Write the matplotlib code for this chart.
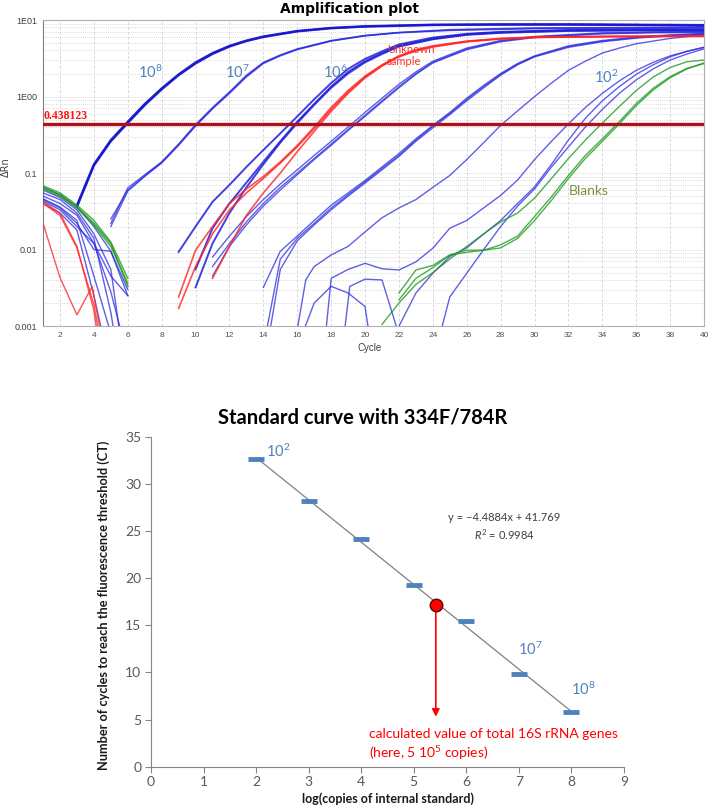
import numpy as np
import matplotlib
matplotlib.use('Agg')
import matplotlib.pyplot as plt
from matplotlib.ticker import LogLocator, NullFormatter

# ---- amplification plot data: (cycle, dRn) points per well ----
base_blue = [
    [(1,0.065),(2,0.052),(3,0.036),(4,0.02),(5,0.0095),(6,0.003)],
    [(1,0.06),(2,0.048),(3,0.033),(4,0.016),(5,0.0055),(5.5,0.0009)],
    [(1,0.05),(2,0.04),(3,0.028),(4,0.012),(5,0.0045),(6,0.0025)],
    [(1,0.045),(2,0.035),(3,0.022),(4,0.01),(5,0.0095),(6,0.0025)],
    [(1,0.046),(2,0.036),(3,0.024),(4,0.0045),(5,0.0008)],
    [(1,0.04),(2,0.03),(3,0.018),(4,0.0025),(4.5,0.0008)],
    [(1,0.055),(2,0.045),(3,0.03),(4,0.014),(5,0.0015),(5.3,0.0006)],
    [(1,0.043),(2,0.033),(3,0.02),(4,0.012),(5,0.0028),(5.7,0.0007)],
]
base_red = [
    [(1,0.022),(2,0.0043),(3,0.0014),(3.9,0.0033),(4.4,0.0008)],
    [(1,0.042),(2,0.03),(3,0.011),(4,0.0016),(4.2,0.0008)],
    [(1,0.04),(2,0.028),(3,0.0105),(4,0.0019),(4.3,0.0008)],
]
base_green = [
    [(1,0.068),(2,0.055),(3,0.038),(4,0.024),(5,0.0125),(6,0.0042)],
    [(1,0.065),(2,0.052),(3,0.036),(4,0.022),(5,0.012),(6,0.0033)],
    [(1,0.062),(2,0.05),(3,0.035),(4,0.021),(5,0.011),(6,0.0036)],
]
std_1e8 = [
    [(3,0.038),(4,0.13),(5,0.27),(6,0.47),(7,0.8),(8,1.28),(9,1.95),(10,2.8),(11,3.7),(12,4.6),(13,5.4),(14,6.1),
     (16,7.2),(18,7.9),(20,8.3),(24,8.7),(28,8.8),(32,8.8),(36,8.7),(40,8.6)],
    [(3,0.036),(4,0.125),(5,0.26),(6,0.45),(7,0.77),(8,1.24),(9,1.9),(10,2.7),(11,3.6),(12,4.5),(13,5.3),(14,6.0),
     (16,7.1),(18,7.8),(20,8.2),(24,8.6),(28,8.7),(32,8.7),(36,8.6),(40,8.4)],
]
std_1e7 = [
    [(5,0.022),(6,0.064),(7,0.095),(8,0.14),(9,0.24),(10,0.43),(11,0.72),(12,1.15),(13,1.9),(14,2.8),(15,3.5),(16,4.2),
     (18,5.4),(20,6.3),(22,6.9),(25,7.5),(30,7.9),(35,8.0),(40,8.0)],
    [(5,0.02),(6,0.058),(7,0.09),(8,0.135),(9,0.23),(10,0.41),(11,0.69),(12,1.1),(13,1.8),(14,2.7),(15,3.4),(16,4.1),
     (18,5.3),(20,6.2),(22,6.8),(25,7.3),(30,7.7),(35,7.8),(40,7.8)],
    [(5,0.025),(6,0.06),(7,0.092),(8,0.138),(9,0.235),(10,0.42),(11,0.7),(12,1.12),(13,1.85),(14,2.75),(15,3.45),(16,4.15),
     (18,5.35),(20,6.25),(22,6.85),(25,7.4),(30,7.8),(35,7.9),(40,7.9)],
]
std_1e6 = [
    [(9,0.0093),(10,0.02),(11,0.042),(12,0.07),(13,0.12),(14,0.2),(15,0.33),(16,0.55),(17,0.92),(18,1.5),(19,2.3),(20,3.1),
     (21,3.9),(22,4.8),(24,5.9),(26,6.6),(28,7.0),(32,7.4),(36,7.5),(40,7.5)],
    [(10,0.0055),(11,0.019),(12,0.04),(13,0.075),(14,0.14),(15,0.26),(16,0.47),(17,0.8),(18,1.35),(19,2.1),(20,2.9),
     (21,3.7),(22,4.6),(24,5.7),(26,6.5),(28,6.9),(32,7.3),(36,7.4),(40,7.4)],
    [(10,0.0032),(11,0.012),(12,0.03),(13,0.065),(14,0.13),(15,0.25),(16,0.45),(17,0.78),(18,1.3),(19,2.0),(20,2.8),
     (21,3.6),(22,4.5),(24,5.6),(26,6.4),(28,6.8),(32,7.2),(36,7.3),(40,7.3)],
]
std_1e5 = [
    [(11,0.008),(12,0.015),(13,0.027),(14,0.045),(15,0.072),(16,0.11),(17,0.17),(18,0.26),(19,0.4),(20,0.62),(21,0.95),
     (22,1.45),(23,2.1),(24,2.9),(26,4.3),(28,5.4),(30,6.1),(34,6.8),(37,7.0),(40,7.1)],
    [(11,0.006),(12,0.012),(13,0.023),(14,0.04),(15,0.065),(16,0.1),(17,0.155),(18,0.24),(19,0.37),(20,0.57),(21,0.88),
     (22,1.35),(23,2.0),(24,2.8),(26,4.2),(28,5.3),(30,6.0),(34,6.7),(37,6.9),(40,7.0)],
    [(11,0.0045),(12,0.011),(13,0.021),(14,0.037),(15,0.06),(16,0.095),(17,0.15),(18,0.23),(19,0.36),(20,0.55),(21,0.85),
     (22,1.3),(23,1.95),(24,2.75),(26,4.1),(28,5.2),(30,5.9),(34,6.6),(37,6.8),(40,6.9)],
]
std_1e4 = [
    [(14,0.0032),(15,0.0095),(16,0.015),(17,0.024),(18,0.038),(19,0.055),(20,0.08),(21,0.12),(22,0.18),(23,0.28),(24,0.42),
     (25,0.62),(26,0.95),(27,1.4),(28,2.0),(29,2.7),(30,3.4),(32,4.6),(34,5.4),(36,6.0),(38,6.4),(40,6.7)],
    [(14.2,0.0009),(15,0.0075),(16,0.014),(17,0.022),(18,0.035),(19,0.052),(20,0.077),(21,0.115),(22,0.17),(23,0.27),(24,0.41),
     (25,0.6),(26,0.92),(27,1.35),(28,1.95),(29,2.65),(30,3.35),(32,4.5),(34,5.3),(36,5.9),(38,6.3),(40,6.6)],
    [(14.4,0.0009),(15,0.0055),(16,0.013),(17,0.021),(18,0.033),(19,0.05),(20,0.074),(21,0.11),(22,0.165),(23,0.26),(24,0.39),
     (25,0.58),(26,0.88),(27,1.3),(28,1.9),(29,2.6),(30,3.3),(32,4.4),(34,5.2),(36,5.8),(38,6.2),(40,6.5)],
]
std_1e3 = [
    [(16,0.0009),(16.5,0.004),(17,0.006),(18,0.0085),(19,0.011),(20,0.017),(21,0.026),(22,0.035),(23,0.045),(24,0.065),
     (25,0.093),(26,0.15),(27,0.25),(28,0.42),(29,0.65),(30,1.0),(31,1.5),(32,2.2),(33,2.9),(34,3.7),(35,4.3),(36,4.9),
     (38,5.75),(40,6.4)],
]
std_1e2 = [
    [(17.7,0.0009),(18,0.0042),(19,0.0055),(20,0.0066),(21,0.0056),(22,0.0054),(23,0.0069),(24,0.0104),(25,0.019),
     (26,0.024),(27,0.035),(28,0.051),(29,0.081),(30,0.15),(31,0.26),(32,0.44),(33,0.72),(34,1.1),(35,1.6),(36,2.2),
     (37,2.8),(38,3.4),(39,3.9),(40,4.4)],
    [(21.9,0.0009),(23,0.0027),(24,0.0049),(25,0.0081),(26,0.0105),(27,0.016),(28,0.024),(29,0.04),(30,0.066),(31,0.13),
     (32,0.27),(33,0.52),(34,0.88),(35,1.35),(36,1.95),(37,2.6),(38,3.3),(39,3.9),(40,4.4)],
    [(24.5,0.0009),(25,0.0024),(26,0.0049),(27,0.01),(28,0.02),(29,0.037),(30,0.062),(31,0.12),(32,0.22),(33,0.4),
     (34,0.68),(35,1.1),(36,1.65),(37,2.3),(38,3.0),(39,3.6),(40,4.2)],
]
noise_blue = [
    [(16.4,0.0009),(17,0.002),(18,0.0033),(19,0.0027),(20,0.0018),(20.2,0.0009)],
    [(18.8,0.0009),(19.1,0.0033),(20,0.0041),(21,0.004),(21.9,0.0009)],
]
unknown_red = [
    [(9,0.0024),(10,0.0098),(11,0.02),(12,0.04),(13,0.062),(14,0.09),(15,0.14),(16,0.23),(17,0.4),(18,0.72),(19,1.2),
     (20,1.85),(21,2.6),(22,3.4),(23,4.1),(24,4.6),(26,5.3),(28,5.75),(30,6.0),(34,6.1),(40,6.2)],
    [(9,0.0017),(10,0.006),(11,0.016),(12,0.033),(13,0.055),(14,0.085),(15,0.135),(16,0.22),(17,0.38),(18,0.68),(19,1.15),
     (20,1.8),(21,2.55),(22,3.35),(23,4.0),(24,4.5),(26,5.25),(28,5.7),(30,5.95),(34,6.1),(40,6.2)],
    [(11,0.0042),(12,0.011),(13,0.028),(14,0.055),(15,0.1),(16,0.19),(17,0.35),(18,0.64),(19,1.1),(20,1.75),(21,2.5),
     (22,3.3),(23,3.95),(24,4.45),(26,5.2),(28,5.65),(30,5.9),(34,6.05),(40,6.1)],
]
blank_green = [
    [(21,0.00105),(22,0.002),(23,0.0035),(24,0.005),(25,0.0075),(26,0.011),(27,0.016),(28,0.023),(29,0.03),(30,0.047),
     (31,0.085),(32,0.155),(33,0.27),(34,0.45),(35,0.74),(36,1.2),(37,1.8),(38,2.4),(39,2.85),(40,3.0)],
    [(22,0.0027),(23,0.0054),(24,0.0062),(25,0.0085),(26,0.0098),(27,0.0098),(28,0.0115),(29,0.015),(30,0.027),
     (31,0.049),(32,0.093),(33,0.17),(34,0.28),(35,0.47),(36,0.81),(37,1.28),(38,1.82),(39,2.34),(40,2.7)],
    [(22,0.0022),(23,0.0042),(24,0.0058),(25,0.0085),(26,0.0092),(27,0.0098),(28,0.0105),(29,0.014),(30,0.024),
     (31,0.044),(32,0.085),(33,0.155),(34,0.26),(35,0.44),(36,0.76),(37,1.22),(38,1.76),(39,2.3),(40,2.75)],
]
threshold = 0.438123
ytick_vals = [0.001, 0.01, 0.1, 1, 10]
ytick_labels = ['0.001', '0.01', '0.1', '1E00', '1E01']

# ---- standard curve data ----
std_log = [2, 3, 4, 5, 6, 7, 8]
std_ct = [32.6, 28.15, 24.1, 19.25, 15.5, 9.8, 5.8]
fit_slope, fit_icpt, fit_r2 = -4.4884, 41.769, 0.9984
unk_log, unk_ct = 5.42, 17.2

plt.rcParams['mathtext.fontset'] = 'custom'
plt.rcParams['mathtext.rm'] = 'Lato'
plt.rcParams['mathtext.it'] = 'Lato:italic'
LATO = ['Lato', 'DejaVu Sans']

fig = plt.figure(figsize=(7.09, 8.08), dpi=100)

# ================= amplification plot =================
ax1 = fig.add_axes([0.0607, 0.5965, 0.9323, 0.3787])
ax1.set_yscale('log')
ax1.set_xlim(1, 40)
ax1.set_ylim(0.001, 10)

def draw(wells, color, lw, alpha):
    for w in wells:
        c, v = zip(*w)
        ax1.plot(c, v, color=color, lw=lw, alpha=alpha, solid_joinstyle='round', zorder=3)

draw(base_blue, '#2b2be0', 1.0, 0.75)
draw(noise_blue, '#2b2be0', 1.0, 0.75)
draw(std_1e2, '#2b2be0', 1.0, 0.75)
draw(std_1e3, '#2b2be0', 1.0, 0.75)
draw(std_1e4, '#2b2be0', 1.0, 0.75)
draw(std_1e5, '#2b2be0', 1.0, 0.75)
draw(std_1e7, '#2b2be0', 1.0, 0.75)
draw(std_1e6, '#1f1fd8', 1.4, 0.85)
draw(std_1e8, '#1414cc', 1.6, 0.9)
draw(base_red, '#ff2a2a', 1.0, 0.8)
draw(unknown_red, '#ff2424', 1.2, 0.8)
draw(base_green, '#1f9a1f', 1.1, 0.8)
draw(blank_green, '#1f9a1f', 1.0, 0.8)

ax1.axhline(threshold, color='#b0101c', lw=2.4, zorder=4)
ax1.text(1.05, threshold * 1.06, '%g' % threshold, color='#ff1010', fontsize=8.5, fontweight='bold',
         family='Liberation Serif', va='bottom', ha='left', zorder=5)

ax1.set_xticks(range(2, 41, 2))
ax1.set_yticks(ytick_vals)
ax1.set_yticklabels(ytick_labels)
ax1.yaxis.set_minor_locator(LogLocator(base=10, subs=np.arange(2, 10)))
ax1.yaxis.set_minor_formatter(NullFormatter())
ax1.tick_params(which='both', length=0)
ax1.tick_params(axis='x', labelsize=6, colors='#505050', pad=4)
ax1.tick_params(axis='y', labelsize=6.5, colors='#404040', pad=4)
for lab in ax1.get_xticklabels() + ax1.get_yticklabels():
    lab.set_family('Liberation Sans')
ax1.grid(which='major', axis='x', ls=(0, (3, 2)), color='#d9d9d9', lw=0.7)
ax1.grid(which='both', axis='y', ls=(0, (1, 1.5)), color='#cfcfcf', lw=0.6)
for s in ax1.spines.values():
    s.set_color('#b0b0b0')
    s.set_linewidth(0.8)
ax1.spines['left'].set_color('#808080')

lab_blue = '#4F81BD'
ax1.text(7.3, 2.1, '10$^{8}$', color=lab_blue, fontsize=10.5, family=LATO, ha='center', va='center', zorder=6)
ax1.text(12.45, 2.1, '10$^{7}$', color=lab_blue, fontsize=10.5, family=LATO, ha='center', va='center', zorder=6)
ax1.text(18.25, 2.1, '10$^{6}$', color=lab_blue, fontsize=10.5, family=LATO, ha='center', va='center', zorder=6)
ax1.text(34.2, 1.8, '10$^{2}$', color=lab_blue, fontsize=10.5, family=LATO, ha='center', va='center', zorder=6)
ax1.text(21.3, 3.45, 'Unknown\nsample', color='#ff3030', fontsize=8, family=LATO, ha='left', va='center',
         linespacing=1.15, zorder=6)
ax1.text(33.2, 0.059, 'Blanks', color='#77933C', fontsize=10, family=LATO, ha='center', va='center', zorder=6)

fig.text(350 / 709, 1 - 9 / 808, 'Amplification plot', fontsize=10, fontweight='bold', family='DejaVu Sans',
         ha='center', va='center')
fig.text(6 / 709, 1 - 167 / 808, 'ΔRn', fontsize=7, rotation=90, color='#404040', ha='center', va='center')
fig.text(370 / 709, 1 - 348 / 808, 'Cycle', fontsize=7, color='#404040', family='Liberation Sans',
         ha='center', va='center')

# ================= standard curve =================
ax2 = fig.add_axes([0.213, 0.0511, 0.667, 0.4084])
ax2.set_xlim(0, 9)
ax2.set_ylim(0, 35)
fx = np.array([std_log[0], std_log[-1]])
ax2.plot(fx, fit_slope * fx + fit_icpt, color='#808080', lw=0.9, zorder=2)
ax2.plot(std_log, std_ct, ls='none', marker='_', ms=11, mew=3.5, color=lab_blue, zorder=3)
ax2.annotate('', xy=(unk_log, 5.3), xytext=(unk_log, unk_ct - 0.5),
             arrowprops=dict(arrowstyle='-|>', color='#ff0000', lw=1.2, mutation_scale=11, shrinkA=0, shrinkB=0),
             zorder=4)
ax2.plot([unk_log], [unk_ct], 'o', ms=9, mfc='#ff0000', mec='#5a0000', mew=1.0, zorder=5)

ax2.set_xticks(range(0, 10))
ax2.set_yticks(range(0, 36, 5))
ax2.tick_params(direction='out', length=4, width=0.8, color='#868686', labelsize=10, labelcolor='#595959', pad=3)
for lab in ax2.get_xticklabels() + ax2.get_yticklabels():
    lab.set_family(LATO)
for s in ['top', 'right']:
    ax2.spines[s].set_visible(False)
for s in ['left', 'bottom']:
    ax2.spines[s].set_color('#868686')
    ax2.spines[s].set_linewidth(0.8)

ax2.set_ylabel('Number of cycles to reach the fluorescence threshold (CT)', fontsize=9.2, fontweight='bold',
               family=LATO, color='#1a1a1a')
ax2.yaxis.set_label_coords(-0.087, 0.49)
ax2.set_xlabel('log(copies of internal standard)', fontsize=9, fontweight='bold', family=LATO, color='#1a1a1a',
               va='center')
ax2.xaxis.set_label_coords(0.502, -0.098)

ax2.text(2.18, 33.4, '10$^{2}$', color=lab_blue, fontsize=10.5, family=LATO, ha='left', va='center')
ax2.text(6.98, 12.4, '10$^{7}$', color=lab_blue, fontsize=10.5, family=LATO, ha='left', va='center')
ax2.text(7.99, 8.2, '10$^{8}$', color=lab_blue, fontsize=10.5, family=LATO, ha='left', va='center')
ax2.text(6.73, 26.4, 'y = −%.4fx + %.3f' % (-fit_slope, fit_icpt), color='#404040', fontsize=8, family=LATO,
         ha='center', va='center')
ax2.text(6.73, 24.6, r'$\mathit{R}^2$ = %.4f' % fit_r2, color='#404040', fontsize=8, family=LATO,
         ha='center', va='center')
ax2.text(4.15, 3.45, 'calculated value of total 16S rRNA genes', color='#ff0000', fontsize=10, family=LATO,
         ha='left', va='center')
ax2.text(4.15, 1.5, '(here, 5 10$^{5}$ copies)', color='#ff0000', fontsize=10, family=LATO, ha='left', va='center')

fig.text(363 / 709, 1 - 418 / 808, 'Standard curve with 334F/784R', fontsize=14.5, fontweight='bold',
         family=LATO, ha='center', va='center')

fig.savefig('out.png', dpi=100)
